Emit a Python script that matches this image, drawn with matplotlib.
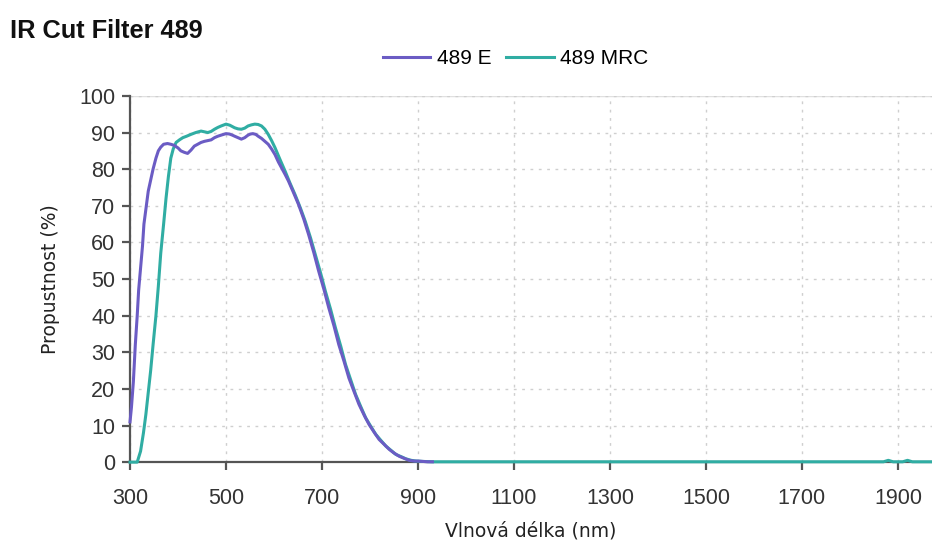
import matplotlib
matplotlib.use("Agg")
import matplotlib.pyplot as plt

# 489 E (purple)
wl_e = [300, 303, 307, 311, 315, 318, 322, 326, 329, 334, 338, 343, 348, 354, 359, 364, 370, 378, 385, 392,
        400, 406, 413, 420, 427, 434, 441, 448, 455, 462, 469, 476, 483, 490, 500, 507, 513, 518, 525, 532,
        539, 546, 551, 556, 562, 567, 574, 581, 588, 595, 602, 609, 616, 623, 630, 640, 651, 662, 672, 683,
        693, 704, 714, 725, 735, 746, 756, 767, 777, 788, 798, 809, 819, 830, 840, 850, 861, 872, 882, 892,
        900, 910, 920, 930]
val_e = [11, 15, 22, 32, 40, 47, 53, 59, 65, 70, 74, 77, 80, 83, 85, 86, 86.8, 87, 86.8, 86.5,
         85.8, 85, 84.6, 84.3, 85.2, 86.3, 86.8, 87.3, 87.6, 87.8, 88, 88.6, 89, 89.3, 89.7, 89.6, 89.3, 89, 88.6, 88.2,
         88.6, 89.3, 89.6, 89.7, 89.5, 89, 88.4, 87.6, 86.8, 85.5, 84, 82, 80.3, 78.6, 76.8, 73.8, 70.4, 66.4, 62.2, 57.2,
         52.2, 47.2, 42.2, 37.2, 32.1, 27.5, 23, 19.2, 15.8, 12.8, 10.3, 8.1, 6.2, 4.8, 3.5, 2.5, 1.6, 1.0, 0.5, 0.3,
         0.3, 0.2, 0.1, 0.1]

# 489 MRC (teal)
wl_m = [300, 308, 315, 322, 328, 333, 338, 343, 348, 354, 359, 364, 370, 375, 380, 385, 390, 396, 403, 410,
        418, 427, 437, 448, 455, 462, 469, 476, 483, 490, 500, 508, 518, 525, 532, 539, 546, 553, 560, 567,
        574, 581, 588, 595, 602, 612, 623, 633, 644, 655, 665, 676, 686, 697, 707, 718, 728, 739, 749, 760,
        770, 781, 791, 802, 812, 823, 833, 844, 854, 865, 875, 886, 896, 910, 930, 1000, 1200, 1400, 1600, 1800,
        1870, 1880, 1890, 1910, 1920, 1930, 1975]
val_m = [0, 0, 0, 3, 8, 13, 19, 25, 32, 40, 48, 57, 65, 72, 78, 83, 85.5, 87.3, 88, 88.6,
         89, 89.5, 90, 90.4, 90.2, 90, 90.3, 90.9, 91.4, 91.8, 92.3, 92, 91.3, 91, 90.9, 91.2, 91.8, 92.1, 92.3, 92.2,
         91.8, 90.9, 89.5, 87.8, 85.9, 82.8, 79.5, 76.3, 73, 69.4, 65.8, 61.3, 56.7, 51.7, 46.7, 41.7, 36.7, 31.7, 26.7, 22.4,
         18.5, 15.1, 12.1, 9.7, 7.6, 5.9, 4.4, 3.2, 2.1, 1.5, 0.9, 0.5, 0.3, 0.2, 0.1, 0.1, 0.1, 0.1, 0.1, 0.1,
         0.1, 0.5, 0.1, 0.1, 0.5, 0.1, 0.1]

x_ticks = [300, 500, 700, 900, 1100, 1300, 1500, 1700, 1900]
y_ticks = list(range(0, 101, 10))

fig = plt.figure(figsize=(9.32, 5.45), dpi=100)
ax = fig.add_axes([0.1395, 0.152, 0.8605, 0.672])

c_e = "#6b5cc4"
c_m = "#30ada3"
ax.plot(wl_m, val_m, color=c_m, lw=2.2, label="489 MRC", zorder=3, clip_on=False)
ax.plot(wl_e, val_e, color=c_e, lw=2.2, label="489 E", zorder=4, clip_on=False)

ax.set_xlim(300, 1971)
ax.set_ylim(0, 100)
ax.set_xticks(x_ticks)
ax.set_yticks(y_ticks)
ax.grid(True, color="#cfcfcf", linestyle=(0, (2, 4)), linewidth=1.0)
ax.axhline(100, color="#e0e0e0", lw=1.0, zorder=1)

for s in ["top", "right"]:
    ax.spines[s].set_visible(False)
for s in ["left", "bottom"]:
    ax.spines[s].set_color("#555555")
    ax.spines[s].set_linewidth(1.6)

ax.tick_params(axis="both", direction="out", length=5.5, width=1.6, color="#555555",
               labelsize=15.5, labelcolor="#333333")
ax.tick_params(axis="x", pad=13)
ax.tick_params(axis="y", pad=5)
for lab in ax.get_xticklabels() + ax.get_yticklabels():
    lab.set_family("Liberation Sans")

ax.set_xlabel("Vlnová délka (nm)", fontsize=13.5, family="DejaVu Sans", color="#222222", labelpad=9)
ax.set_ylabel("Propustnost (%)", fontsize=13.5, family="DejaVu Sans", color="#222222", labelpad=14)

fig.text(0.011, 0.944, "IR Cut Filter 489", fontsize=18.3, fontweight="bold",
         family="Liberation Sans", va="center", ha="left", color="#111111")

h, l = ax.get_legend_handles_labels()
leg = fig.legend(h[::-1], l[::-1], loc="center", bbox_to_anchor=(0.553, 0.893), ncol=2, frameon=False,
                 prop={"family": "Liberation Sans", "size": 15}, handlelength=2.3, columnspacing=0.7,
                 handletextpad=0.3)

fig.savefig("out.png", dpi=100)
